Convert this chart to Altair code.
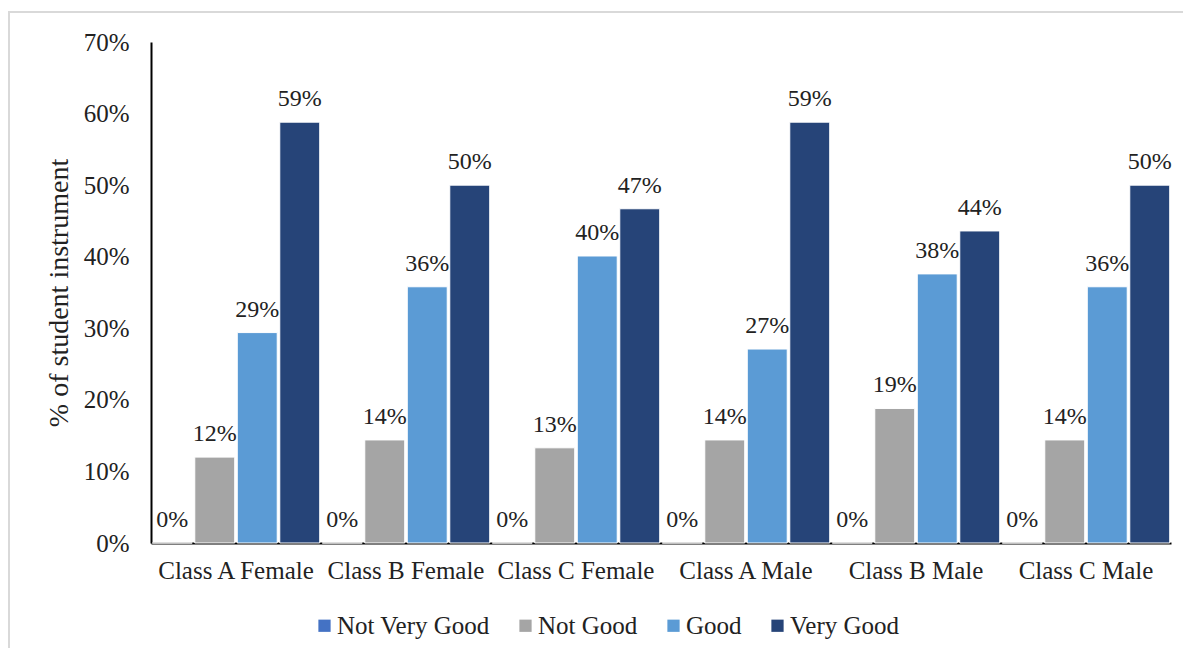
import altair as alt
import pandas as pd

categories = ["Class A Female", "Class B Female", "Class C Female",
              "Class A Male", "Class B Male", "Class C Male"]
series = ["Not Very Good", "Not Good", "Good", "Very Good"]
not_very_good = [0.0, 0.0, 0.0, 0.0, 0.0, 0.0]
not_good = [0.120, 0.144, 0.133, 0.144, 0.188, 0.144]
good = [0.294, 0.358, 0.401, 0.271, 0.376, 0.358]
very_good = [0.588, 0.500, 0.467, 0.588, 0.436, 0.500]
colors = ["#4472C4", "#A5A5A5", "#5B9BD5", "#264478"]

rows = []
for s, vals in zip(series, [not_very_good, not_good, good, very_good]):
    for c, v in zip(categories, vals):
        rows.append({"Category": c, "Series": s, "Value": v})
df = pd.DataFrame(rows)

FONT = "Liberation Serif"
TXT = "#222222"

base = alt.Chart(df).encode(
    x=alt.X("Category:N", sort=categories, title=None,
            scale=alt.Scale(paddingInner=0, paddingOuter=0),
            axis=alt.Axis(labelAngle=0, ticks=False, tickSize=0, labelPadding=15,
                          labelFont=FONT, labelFontSize=25, labelColor=TXT,
                          domainColor="#000000", domainWidth=2)),
    xOffset=alt.XOffset("Series:N", sort=series,
                        scale=alt.Scale(paddingInner=0.06, paddingOuter=0.03)),
    y=alt.Y("Value:Q", title="% of student instrument",
            scale=alt.Scale(domain=[0, 0.7], nice=False),
            axis=alt.Axis(format=".0%", values=[0, 0.1, 0.2, 0.3, 0.4, 0.5, 0.6, 0.7],
                          grid=False, ticks=False, tickSize=0, labelPadding=22,
                          labelFont=FONT, labelFontSize=25, labelColor=TXT,
                          titleFont=FONT, titleFontSize=28, titleFontWeight="normal",
                          titleColor=TXT, titlePadding=10,
                          domainColor="#000000", domainWidth=2)),
)

bars = base.mark_bar(stroke="white", strokeWidth=1).encode(
    color=alt.Color("Series:N", sort=series,
                    scale=alt.Scale(domain=series, range=colors),
                    legend=alt.Legend(title=None, orient="none", direction="horizontal",
                                      legendX=161, legendY=571,
                                      symbolType="square", symbolSize=150,
                                      symbolStrokeWidth=0,
                                      labelFont=FONT, labelFontSize=25, labelColor=TXT,
                                      labelOffset=0, columnPadding=23, padding=0))
)

labels = base.mark_text(baseline="alphabetic", dy=-16, fontSize=24,
                        color=TXT, font=FONT).encode(
    text=alt.Text("Value:Q", format=".0%")
)

frame = alt.Chart(pd.DataFrame({"k": [0]})).mark_rect(
    fill=None, stroke="#D9D9D9", strokeWidth=2
).encode(
    x=alt.value(-142), x2=alt.value(1100), y=alt.value(-30), y2=alt.value(700)
)

chart = alt.layer(frame, bars, labels).properties(
    width=1020, height=501,
    autosize=alt.AutoSizeParams(type="none"),
    padding={"left": 143, "top": 34, "right": 12, "bottom": 105},
).configure(font=FONT).configure_view(stroke=None)

chart.save("out.html", embed_options={"renderer": "svg", "actions": False})
